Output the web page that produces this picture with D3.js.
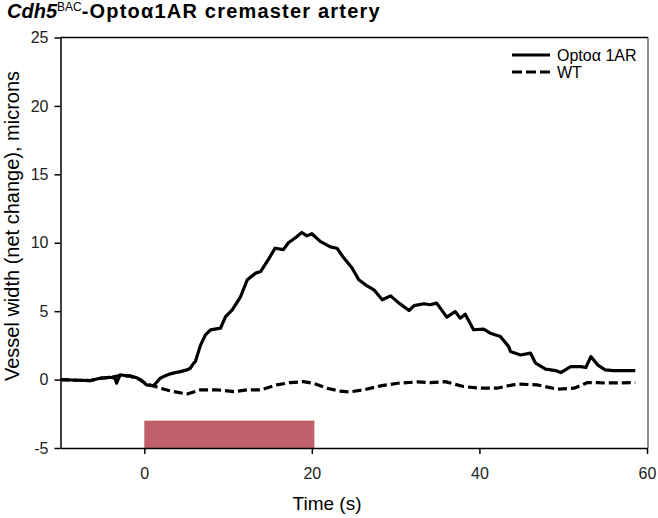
<!DOCTYPE html>
<html>
<head>
<meta charset="utf-8">
<script src="https://cdn.jsdelivr.net/npm/d3@7"></script>
<style>
  html, body { margin: 0; padding: 0; background: #fff; }
  svg { display: block; font-family: "Liberation Sans", Arial, sans-serif; }
</style>
</head>
<body>
<svg id="chart" width="658" height="518"></svg>
<script>
// ---- data ----
const optoTime = [-10,-8,-6.4,-5.3,-4.1,-3.5,-3.3,-2.9,-2.3,-1.7,-1,-0.5,0.3,1.1,1.9,2.3,3.1,3.7,4.3,5.1,5.5,5.9,6.1,6.7,7.3,7.9,9.1,9.7,10.5,11.5,12.3,13.3,13.9,14.8,15.6,16.6,17.2,18.0,18.8,19.4,20.0,21.0,22.2,23.0,23.8,24.8,25.6,26.4,27.4,28.4,29.4,30.4,31.6,32.2,33.4,34.1,34.9,36.1,37.1,37.7,38.3,39.3,40.5,41.3,42.5,43.5,43.7,44.9,46.1,46.7,47.9,49.1,49.7,50.9,52.1,52.7,53.3,54.1,55.0,56.0,58.6];
const optoValue = [0,-0.05,-0.07,0.1,0.17,0.1,-0.27,0.34,0.3,0.27,0.15,0,-0.39,-0.46,0.1,0.22,0.42,0.51,0.58,0.71,0.83,1.2,1.32,2.5,3.27,3.63,3.76,4.6,5.1,6.07,7.3,7.78,7.9,8.76,9.6,9.5,10.0,10.35,10.75,10.5,10.66,10.1,9.7,9.6,8.9,8.15,7.3,6.93,6.56,5.83,6.12,5.59,5.05,5.4,5.54,5.47,5.59,4.56,4.97,4.49,4.78,3.64,3.69,3.39,3.15,2.41,2.05,1.8,1.93,1.2,0.76,0.66,0.51,0.95,0.95,0.88,1.68,1.08,0.71,0.66,0.66];

const wtTime = [-10,-8,-6.4,-5.3,-4.1,-2.9,-1.7,-0.5,0.3,1.1,1.9,3.5,5.1,6.7,8.7,10.7,12.3,13.9,15.8,17.4,19.0,20.2,21.8,23.4,24.5,26.2,28.2,30.2,32.6,34.1,35.9,38.1,40.1,42.1,44.5,46.9,49.3,51.3,52.9,54.1,55.0,58.6];
const wtValue = [0,-0.05,-0.07,0.08,0.15,0.3,0.25,0,-0.35,-0.45,-0.63,-0.88,-1.05,-0.75,-0.75,-0.88,-0.75,-0.75,-0.39,-0.22,-0.15,-0.27,-0.63,-0.85,-0.9,-0.75,-0.46,-0.27,-0.17,-0.22,-0.15,-0.51,-0.63,-0.63,-0.32,-0.39,-0.70,-0.63,-0.22,-0.22,-0.25,-0.22];

const stimStart = 0, stimEnd = 20.3, stimLow = -5, stimHigh = -3;
const xTicks = [0, 20, 40, 60];
const yTicks = [-5, 0, 5, 10, 15, 20, 25];
const seriesNames = ["Optoα 1AR", "WT"];

// ---- layout ----
const svg = d3.select("#chart");
const mLeft = 60.5, mRight = 647, mTop = 37.5, mBottom = 448;
const x = d3.scaleLinear().domain([-10, 60]).range([mLeft, mRight]);
const y = d3.scaleLinear().domain([-5, 25]).range([mBottom, mTop]);

// stimulus bar
svg.append("rect")
  .attr("x", x(stimStart)).attr("y", y(stimHigh))
  .attr("width", x(stimEnd) - x(stimStart)).attr("height", y(stimLow) - y(stimHigh))
  .attr("fill", "#c0606b");

// frame top and right
svg.append("line").attr("x1", mLeft).attr("x2", mRight + 1).attr("y1", mTop).attr("y2", mTop)
  .attr("stroke", "#000").attr("stroke-width", 1.5);
svg.append("line").attr("x1", mRight + 1).attr("x2", mRight + 1).attr("y1", mTop).attr("y2", mBottom)
  .attr("stroke", "#444").attr("stroke-width", 1.2);

// axes
const fmt = d => String(d);
const xAxis = d3.axisBottom(x).tickValues(xTicks).tickFormat(fmt).tickSize(6).tickSizeOuter(0).tickPadding(14);
const yAxis = d3.axisLeft(y).tickValues(yTicks).tickFormat(fmt).tickSize(6).tickSizeOuter(0).tickPadding(6);

const gx = svg.append("g").attr("transform", `translate(0,${mBottom})`).call(xAxis);
const gy = svg.append("g").attr("transform", `translate(${mLeft},0)`).call(yAxis);
[gx, gy].forEach(g => {
  g.select(".domain").attr("stroke", "#000").attr("stroke-width", 1.5);
  g.selectAll(".tick line").attr("stroke", "#000").attr("stroke-width", 1.5);
  g.selectAll(".tick text").attr("font-size", 16).attr("fill", "#222")
    .attr("font-family", "Liberation Sans, Arial, sans-serif");
});

// lines
const line = d3.line().x(d => x(d[0])).y(d => y(d[1]));
const wtData = wtTime.map((t, i) => [t, wtValue[i]]);
const optoData = optoTime.map((t, i) => [t, optoValue[i]]);

svg.append("path").datum(wtData).attr("d", line)
  .attr("fill", "none").attr("stroke", "#000").attr("stroke-width", 3.2)
  .attr("stroke-dasharray", "9,4").attr("stroke-linejoin", "round");
svg.append("path").datum(optoData).attr("d", line)
  .attr("fill", "none").attr("stroke", "#000").attr("stroke-width", 3.2)
  .attr("stroke-linejoin", "round");

// legend
const leg = svg.append("g");
leg.append("line").attr("x1", 512).attr("x2", 550).attr("y1", 55).attr("y2", 55)
  .attr("stroke", "#000").attr("stroke-width", 3);
leg.append("text").attr("x", 557).attr("y", 61).attr("font-size", 16).text(seriesNames[0]);
leg.append("line").attr("x1", 512).attr("x2", 550).attr("y1", 72).attr("y2", 72)
  .attr("stroke", "#000").attr("stroke-width", 3).attr("stroke-dasharray", "10,4");
leg.append("text").attr("x", 557).attr("y", 78).attr("font-size", 16).text(seriesNames[1]);

// axis titles
svg.append("text").attr("x", 327).attr("y", 510)
  .attr("text-anchor", "middle").attr("font-size", 19).text("Time (s)");
svg.append("text").attr("transform", "translate(19,226) rotate(-90)")
  .attr("text-anchor", "middle").attr("font-size", 20)
  .text("Vessel width (net change), microns");

// title
const title = svg.append("text").attr("x", 7).attr("y", 18).attr("font-size", 20).attr("font-weight", "bold");
title.append("tspan").attr("font-style", "italic").text("Cdh5");
title.append("tspan").attr("font-size", 12).attr("font-weight", "normal").attr("dy", -7).text("BAC");
title.append("tspan").attr("dy", 7).attr("letter-spacing", 1.2).text("-Optoα1AR cremaster artery");
</script>
</body>
</html>
